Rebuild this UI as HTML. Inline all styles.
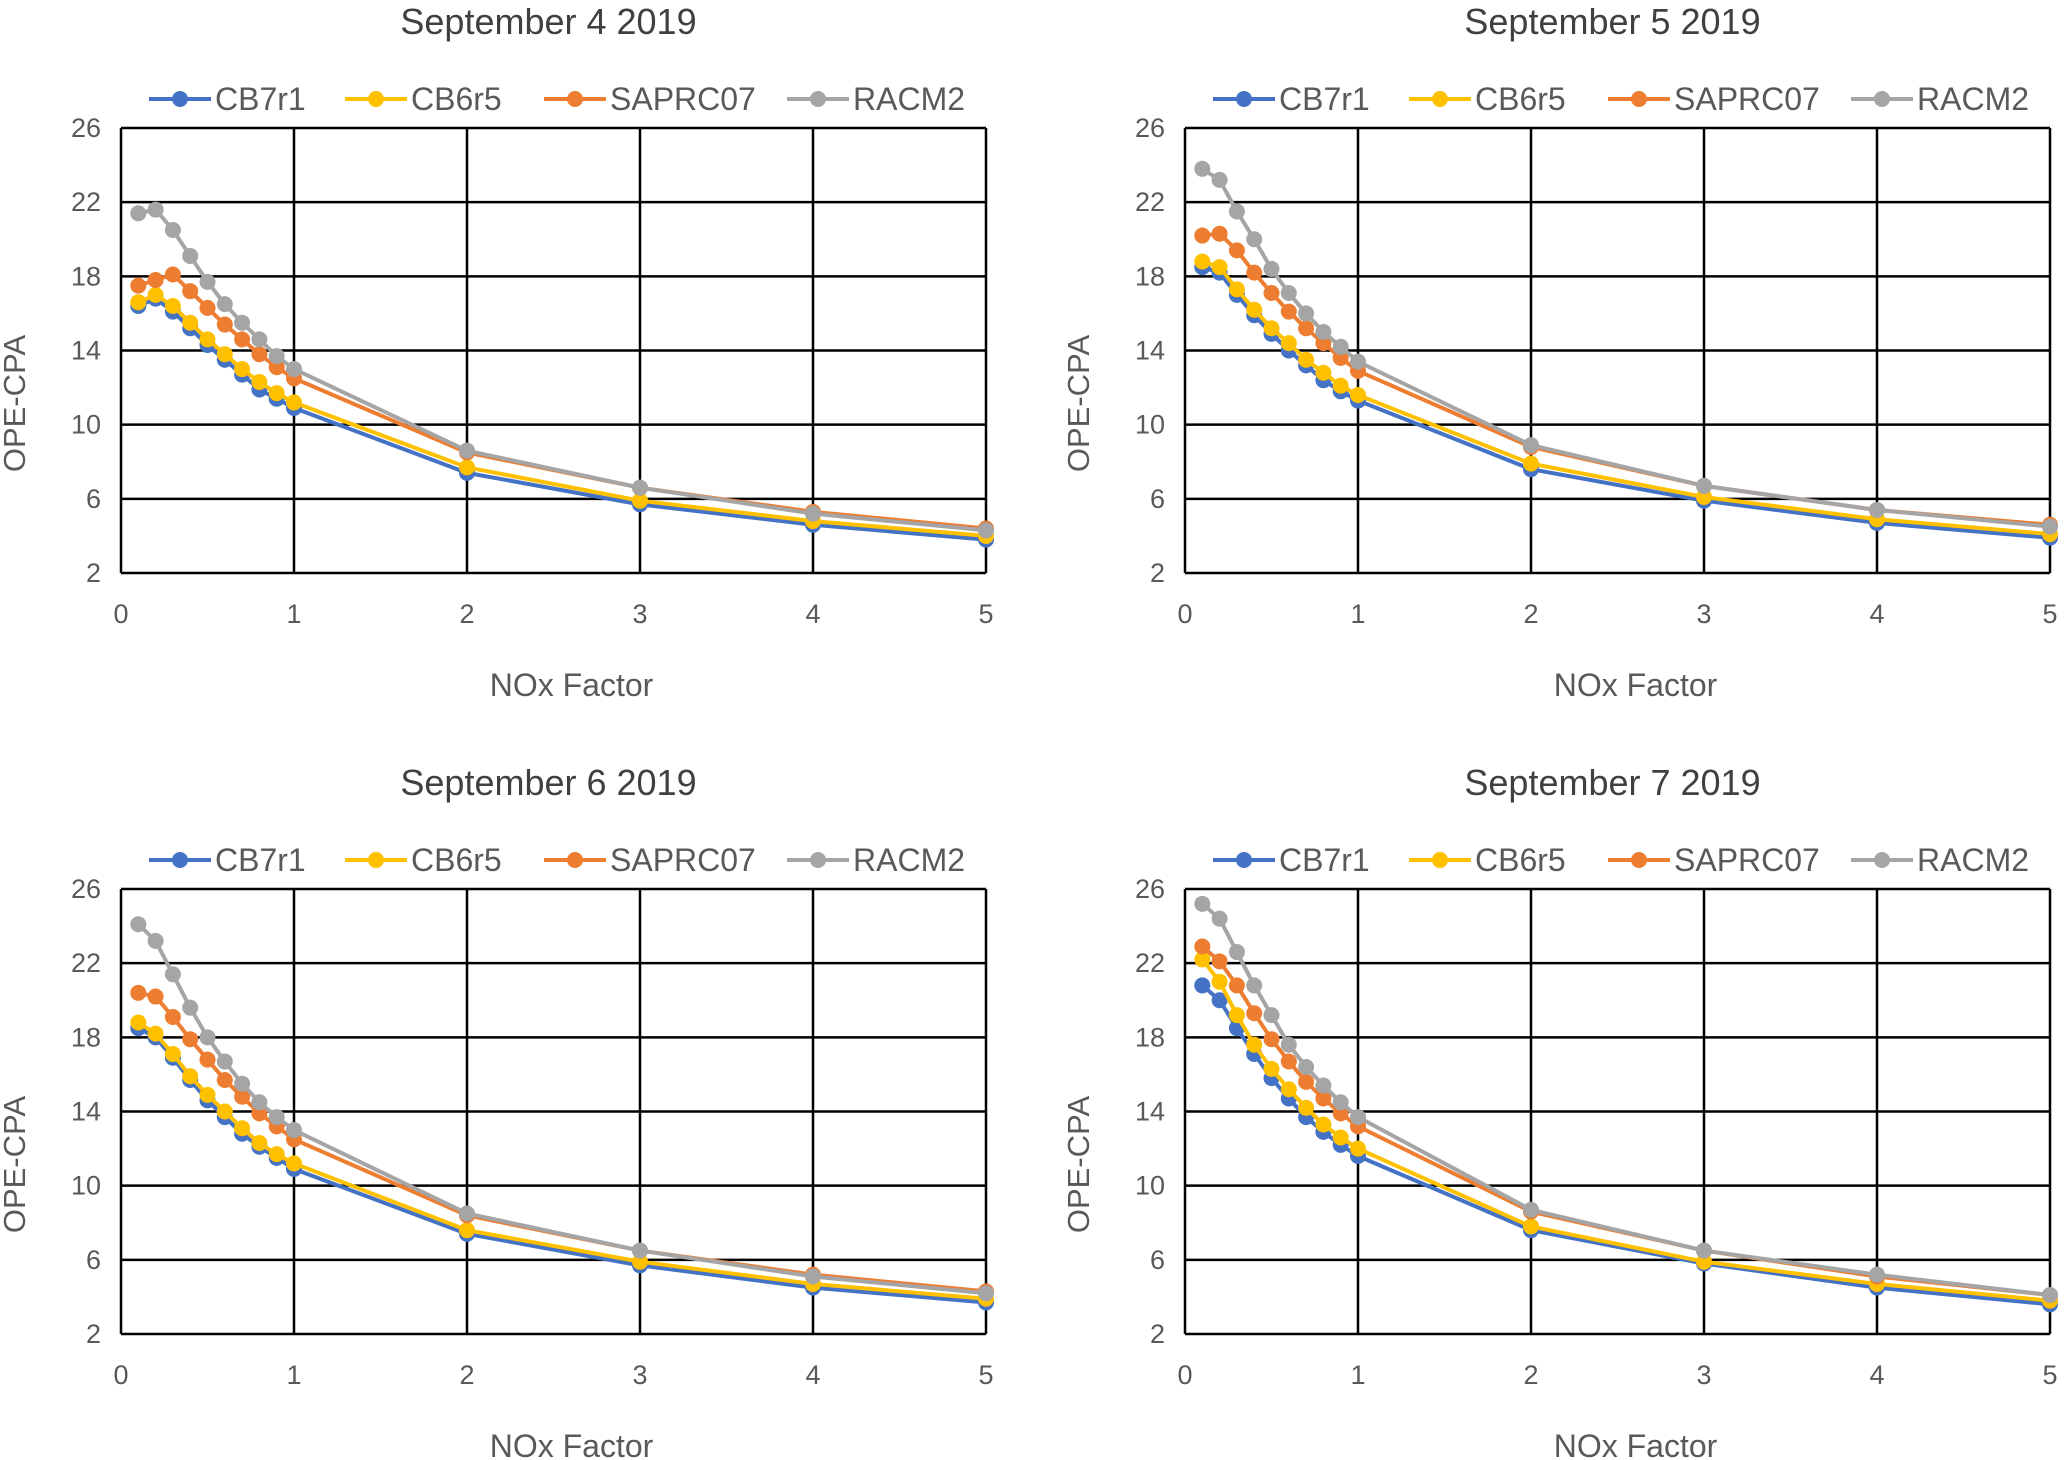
<!DOCTYPE html>
<html><head><meta charset="utf-8"><style>
html,body{margin:0;padding:0;background:#fff;}
svg{display:block;font-family:"Liberation Sans",sans-serif;}
</style></head><body>
<svg id="fig" width="2067" height="1460" viewBox="0 0 2067 1460" xmlns="http://www.w3.org/2000/svg"></svg>
<script>
const xValues=[0.1,0.2,0.3,0.4,0.5,0.6,0.7,0.8,0.9,1,2,3,4,5];
const seriesNames=["CB7r1","CB6r5","SAPRC07","RACM2"];
const chartTitles=["September 4 2019","September 5 2019","September 6 2019","September 7 2019"];
const xTicks=[0,1,2,3,4,5];
const yTicks=[2,6,10,14,18,22,26];
const sep4CB7r1=[16.4,16.8,16.1,15.2,14.3,13.5,12.7,11.9,11.4,10.9,7.4,5.7,4.6,3.8];
const sep4CB6r5=[16.6,17.0,16.4,15.5,14.6,13.8,13.0,12.3,11.7,11.2,7.7,5.9,4.8,4.0];
const sep4SAPRC07=[17.5,17.8,18.1,17.2,16.3,15.4,14.6,13.8,13.1,12.5,8.5,6.6,5.3,4.4];
const sep4RACM2=[21.4,21.6,20.5,19.1,17.7,16.5,15.5,14.6,13.7,13.0,8.6,6.6,5.2,4.3];
const sep5CB7r1=[18.5,18.2,17.0,15.9,14.9,14.0,13.2,12.4,11.8,11.3,7.6,5.9,4.7,3.9];
const sep5CB6r5=[18.8,18.5,17.3,16.2,15.2,14.4,13.5,12.8,12.1,11.6,7.9,6.1,4.9,4.1];
const sep5SAPRC07=[20.2,20.3,19.4,18.2,17.1,16.1,15.2,14.4,13.6,12.9,8.8,6.7,5.4,4.6];
const sep5RACM2=[23.8,23.2,21.5,20.0,18.4,17.1,16.0,15.0,14.2,13.4,8.9,6.7,5.4,4.5];
const sep6CB7r1=[18.5,18.0,16.9,15.7,14.6,13.7,12.8,12.1,11.5,10.9,7.4,5.7,4.5,3.7];
const sep6CB6r5=[18.8,18.2,17.1,15.9,14.9,14.0,13.1,12.3,11.7,11.2,7.6,5.9,4.7,3.9];
const sep6SAPRC07=[20.4,20.2,19.1,17.9,16.8,15.7,14.8,13.9,13.2,12.5,8.4,6.5,5.2,4.3];
const sep6RACM2=[24.1,23.2,21.4,19.6,18.0,16.7,15.5,14.5,13.7,13.0,8.5,6.5,5.1,4.2];
const sep7CB7r1=[20.8,20.0,18.5,17.1,15.8,14.7,13.7,12.9,12.2,11.6,7.6,5.8,4.5,3.6];
const sep7CB6r5=[22.2,21.0,19.2,17.6,16.3,15.2,14.2,13.3,12.6,12.0,7.8,5.9,4.7,3.8];
const sep7SAPRC07=[22.9,22.1,20.8,19.3,17.9,16.7,15.6,14.7,13.9,13.2,8.6,6.5,5.1,4.1];
const sep7RACM2=[25.2,24.4,22.6,20.8,19.2,17.6,16.4,15.4,14.5,13.7,8.7,6.5,5.2,4.1];
const chartData=[[sep4CB7r1,sep4CB6r5,sep4SAPRC07,sep4RACM2],[sep5CB7r1,sep5CB6r5,sep5SAPRC07,sep5RACM2],[sep6CB7r1,sep6CB6r5,sep6SAPRC07,sep6RACM2],[sep7CB7r1,sep7CB6r5,sep7SAPRC07,sep7RACM2]];

const colors=["#4472C4","#FFC000","#ED7D31","#A5A5A5"];
const NS="http://www.w3.org/2000/svg";
const svg=document.getElementById('fig');
function mk(tag,attrs,parent,text){const e=document.createElementNS(NS,tag);for(const k in attrs)e.setAttribute(k,attrs[k]);if(text!==undefined)e.textContent=text;parent.appendChild(e);return e;}
const layouts=[{l:121,t:128},{l:1185,t:128},{l:121,t:889},{l:1185,t:889}];
const PW=865,PH=445;
const legOff=[28,224,423,666];
layouts.forEach((L,ci)=>{
  const g=mk('g',{},svg);
  
  
  const xs=v=>L.l+v/5*PW;
  const ys=v=>L.t+PH-(v-2)/24*PH;
  const t=mk('text',{x:L.l+PW/2-5,y:L.t-94,'font-size':36,fill:'#404040','text-anchor':'middle'},g,chartTitles[ci]);
  
  
  seriesNames.forEach((n,si)=>{
    const lg=mk('g',{},g);
    
    
    const x0=L.l+legOff[si], y0=L.t-29;
    mk('line',{x1:x0,y1:y0,x2:x0+62,y2:y0,stroke:colors[si],'stroke-width':4},lg);
    mk('circle',{cx:x0+31,cy:y0,r:8,fill:colors[si]},lg);
    mk('text',{x:x0+66,y:y0+11,'font-size':32,fill:'#595959'},lg,n);
  });
  const grid=mk('g',{stroke:'#000','stroke-width':2.5},g);
  
  
  yTicks.forEach(v=>{mk('line',{x1:L.l,x2:L.l+PW,y1:ys(v),y2:ys(v)},grid);
    const tl=mk('text',{x:L.l-20,y:ys(v)+9,'font-size':27,fill:'#595959','text-anchor':'end',stroke:'none'},g,v);
    });
  xTicks.forEach(v=>{mk('line',{x1:xs(v),x2:xs(v),y1:L.t,y2:L.t+PH},grid);
    const tl=mk('text',{x:xs(v),y:L.t+PH+50,'font-size':27,fill:'#595959','text-anchor':'middle'},g,v);
    });
  const yt=mk('text',{x:0,y:0,'font-size':31,fill:'#595959','text-anchor':'middle',transform:`translate(${L.l-96},${L.t+PH/2+53}) rotate(-90)`},g,'OPE-CPA');
  
  const xt=mk('text',{x:L.l+PW/2+18,y:L.t+PH+123,'font-size':32,fill:'#595959','text-anchor':'middle'},g,'NOx Factor');
  
  chartData[ci].forEach((vals,si)=>{
    const sg=mk('g',{},g);
    
    
    mk('polyline',{points:vals.map((v,i)=>xs(xValues[i])+','+ys(v)).join(' '),fill:'none',stroke:colors[si],'stroke-width':4,'stroke-linejoin':'round'},sg);
    vals.forEach((v,i)=>{const c=mk('circle',{cx:xs(xValues[i]),cy:ys(v),r:8,fill:colors[si]},sg);
      });
  });
});
</script>
</body></html>
